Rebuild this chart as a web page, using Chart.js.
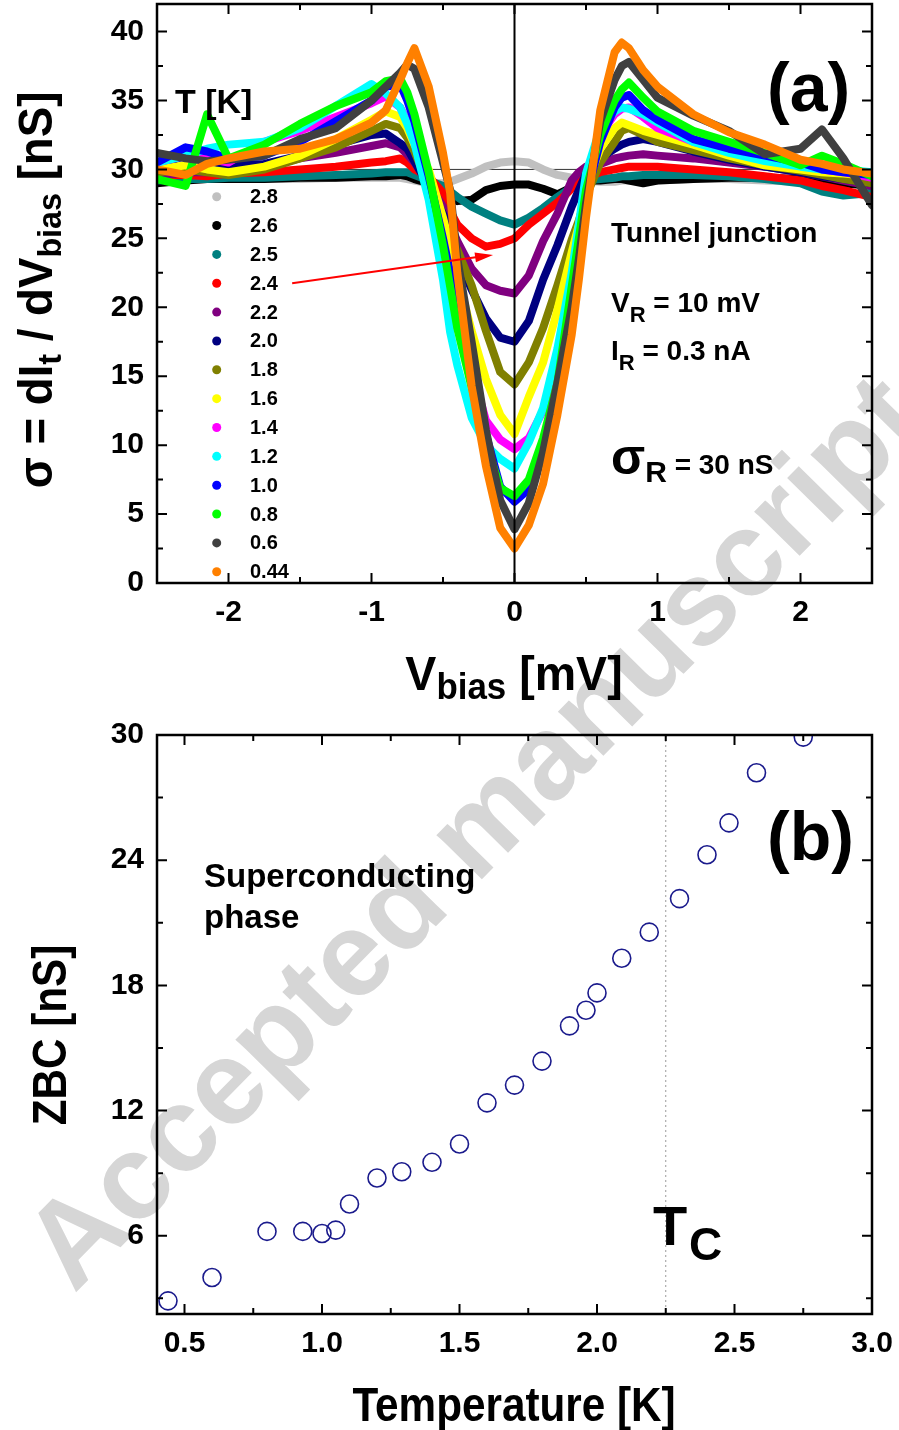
<!DOCTYPE html>
<html>
<head>
<meta charset="utf-8">
<script src="https://cdn.jsdelivr.net/npm/chart.js@4.4.1/dist/chart.umd.min.js"></script>
<style>
  html, body { margin: 0; padding: 0; background: #fff; overflow: hidden; }
  #page { position: relative; width: 899px; height: 1430px; }
  #page canvas { position: absolute; left: 0; }
  #wm { top: 0; }
  #chartA { top: 0; }
  #chartB { top: 715px; }
</style>
</head>
<body>
<div id="page">
  <canvas id="wm" width="899" height="1430"></canvas>
  <canvas id="chartA" width="899" height="715"></canvas>
  <canvas id="chartB" width="899" height="715"></canvas>
</div>
<script>
const FONT = '"Liberation Sans", Arial, Helvetica, sans-serif'

// ---- panel (a): conductance vs bias, one curve per temperature ----
const vbias = [-2.5,-2.3,-2.15,-2.0,-1.75,-1.5,-1.25,-1.0,-0.9,-0.8,-0.75,-0.7,-0.6,-0.5,-0.45,-0.4,-0.3,-0.2,-0.1,
  0,
  0.1,0.2,0.3,0.4,0.45,0.5,0.6,0.7,0.75,0.8,0.9,1.0,1.25,1.5,1.75,2.0,2.15,2.3,2.5]

const sigma28 = [29.2,29.2,29.3,29.3,29.3,29.3,29.4,29.4,29.4,29.4,29.3,29.2,29.0,29.0,29.1,29.3,29.7,30.2,30.5, 30.6,
  30.5,30.0,29.6,29.4,29.3,29.2,29.1,29.1,29.2,29.2,29.2,29.2,29.3,29.3,29.2,29.1,29.0,29.0,29.0]
const sigma26 = [29.0,29.2,29.3,29.3,29.3,29.4,29.4,29.5,29.5,29.6,29.5,29.3,29.0,28.5,28.0,27.7,27.8,28.5,28.8, 28.9,
  28.9,28.6,28.2,28.7,29.0,29.2,29.2,29.3,29.3,29.2,29.0,29.2,29.3,29.4,29.4,29.3,29.2,29.0,28.8]
const sigma25 = [29.2,29.3,29.3,29.4,29.4,29.5,29.6,29.7,29.8,29.8,29.8,29.6,29.2,28.8,28.4,28.0,27.3,26.8,26.3, 26.0,
  26.5,27.2,28.0,28.7,29.0,29.2,29.3,29.4,29.5,29.5,29.6,29.6,29.6,29.5,29.3,29.0,28.4,28.1,28.3]
const sigma24 = [29.6,29.6,29.5,29.7,29.8,30.0,30.2,30.5,30.6,30.8,30.5,30.0,29.5,28.3,27.0,26.0,25.0,24.4,24.6, 25.0,
  26.0,26.8,27.6,28.6,29.1,29.4,29.8,30.0,30.1,30.2,30.2,30.2,30.0,29.8,29.5,29.2,28.8,28.5,28.0]
const sigma22 = [29.5,29.8,29.8,29.9,30.2,30.8,31.2,31.7,31.9,31.6,31.1,30.5,29.0,27.3,26.0,24.8,22.8,21.6,21.2, 21.0,
  22.3,24.8,26.8,29.2,29.8,30.2,30.4,30.8,30.9,31.0,31.1,31.0,30.8,30.5,30.2,29.8,29.5,29.2,28.8]
const sigma20 = [30.3,31.0,30.6,30.3,30.4,31.0,31.8,32.5,32.6,31.9,31.5,30.6,28.8,26.8,25.3,23.7,21.3,19.2,17.8, 17.5,
  19.0,22.0,24.5,27.3,28.5,29.7,30.8,31.5,31.8,32.0,32.2,32.0,31.3,30.7,30.2,29.8,29.5,29.3,29.0]
const sigma18 = [29.8,30.0,29.8,29.6,30.0,30.8,31.6,32.8,33.3,33.0,32.3,31.3,28.8,26.0,25.0,24.2,21.6,18.3,15.3, 14.4,
  16.0,18.5,21.6,24.9,26.3,28.0,30.5,32.0,32.8,33.0,32.5,32.0,31.4,30.8,30.3,29.9,29.6,29.3,29.0]
const sigma16 = [30.0,30.3,30.0,29.8,30.2,31.0,32.2,33.6,34.2,33.8,33.0,31.8,30.0,26.5,24.5,22.3,18.3,14.8,12.2, 10.8,
  13.5,16.0,19.8,24.0,26.0,28.8,31.5,33.0,33.4,33.2,32.8,32.5,31.8,31.0,30.3,30.0,29.8,29.7,29.5]
const sigma14 = [30.5,31.0,30.8,30.5,32.0,32.8,33.8,34.8,35.3,34.5,33.5,32.2,28.8,24.5,21.5,18.5,15.5,11.8,10.4, 9.7,
  10.5,12.5,16.5,22.0,25.5,29.0,32.5,34.0,34.4,34.5,33.8,33.0,32.0,31.4,30.7,30.3,30.0,29.8,29.4]
const sigma12 = [30.5,31.0,31.5,31.8,32.0,33.0,34.6,36.2,35.5,34.5,33.3,31.9,27.8,22.0,18.2,15.8,12.0,10.0,9.0, 8.3,
  10.2,12.7,17.0,22.5,26.0,29.7,33.0,34.2,34.5,34.4,34.0,33.4,32.0,31.2,30.6,30.2,30.0,30.0,29.8]
const sigma10 = [30.5,31.6,31.3,30.8,31.0,32.0,33.5,35.0,36.0,36.2,35.0,33.5,29.5,25.0,22.5,19.5,15.0,10.8,7.0, 5.9,
  6.8,9.8,14.0,21.0,24.5,28.0,32.0,34.5,35.2,35.4,34.3,33.6,32.2,31.5,31.0,30.5,30.0,29.8,29.6]
const sigma08 = [29.3,28.8,34.0,30.8,31.8,33.3,34.6,35.6,36.4,36.6,35.6,34.0,29.8,24.5,21.5,18.5,14.2,10.2,6.9, 6.3,
  7.5,10.5,14.5,21.5,25.0,28.5,32.5,35.0,35.8,36.3,35.2,34.2,32.8,32.0,31.2,30.3,31.0,30.4,29.5]
const sigma06 = [31.2,30.8,30.6,30.7,31.0,32.2,33.0,35.0,36.0,37.0,37.6,37.3,34.5,30.5,28.5,23.5,17.5,11.1,6.0, 3.9,
  5.8,9.5,14.5,20.0,23.5,27.5,33.5,36.5,37.5,37.8,36.5,35.2,33.9,32.8,31.1,31.5,32.9,30.8,27.4]
const sigma044 = [30.0,29.6,30.4,30.8,31.3,31.5,32.2,33.4,34.3,36.5,37.7,38.8,36.0,31.2,28.3,22.5,14.3,8.5,4.0, 2.5,
  4.2,7.2,12.2,18.0,22.0,26.5,34.3,38.5,39.2,38.8,37.2,36.0,34.0,32.7,31.8,30.7,30.4,30.0,29.7]

const tempLabels = ['2.8','2.6','2.5','2.4','2.2','2.0','1.8','1.6','1.4','1.2','1.0','0.8','0.6','0.44']
const curveColors = ['#c0c0c0','#000000','#008080','#ff0000','#800080','#000080','#808000',
  '#ffff00','#ff00ff','#00ffff','#0000ff','#00ff00','#404040','#ff8000']
const curves = [sigma28, sigma26, sigma25, sigma24, sigma22, sigma20, sigma18,
  sigma16, sigma14, sigma12, sigma10, sigma08, sigma06, sigma044]

const xTicksA = [-2, -1, 0, 1, 2]
const xMinorA = [-1.5, -0.5, 0.5, 1.5]
const yTicksA = [0, 5, 10, 15, 20, 25, 30, 35, 40]
const yMinorA = [2.5, 7.5, 12.5, 17.5, 22.5, 27.5, 32.5, 37.5]

// ---- panel (b): zero bias conductance vs temperature ----
const temperatureK = [0.44,0.60,0.80,0.93,1.00,1.05,1.10,1.20,1.29,1.40,1.50,1.60,
  1.70,1.80,1.90,1.96,2.00,2.09,2.19,2.30,2.40,2.48,2.58,2.75]
const zbc = [2.88,4.0,6.21,6.21,6.11,6.27,7.52,8.77,9.07,9.52,10.4,12.37,
  13.22,14.37,16.06,16.81,17.64,19.3,20.55,22.16,24.26,25.79,28.19,29.9]

const xTicksB = [0.5, 1.0, 1.5, 2.0, 2.5, 3.0]
const xMinorB = [0.75, 1.25, 1.75, 2.25, 2.75]
const yTicksB = [6, 12, 18, 24, 30]
const yMinorB = [3, 9, 15, 21, 27]
const tcValue = 2.25

// watermark behind both panels
const wm = document.getElementById('wm').getContext('2d')
wm.save()
wm.translate(478, 836)
wm.rotate(-45.5 * Math.PI / 180)
wm.font = 'bold 120px ' + FONT
wm.fillStyle = '#d6d6d6'
wm.textAlign = 'center'
wm.textBaseline = 'middle'
wm.fillText('Accepted manuscript', 0, 0)
wm.restore()

// text made of pieces, some of them lowered (subscripts)
function drawRich(ctx, parts, x, y, align, sx, rot) {
  ctx.save()
  ctx.translate(x, y)
  if (rot) ctx.rotate(rot)
  ctx.scale(sx || 1, 1)
  let w = 0
  parts.forEach(p => {
    ctx.font = 'bold ' + p.s + 'px ' + FONT
    p.w = ctx.measureText(p.t).width
    w += p.w
  })
  let cx = align === 'center' ? -w / 2 : 0
  ctx.fillStyle = '#000'
  ctx.textAlign = 'left'
  ctx.textBaseline = 'alphabetic'
  parts.forEach(p => {
    ctx.font = 'bold ' + p.s + 'px ' + FONT
    ctx.fillText(p.t, cx, p.dy || 0)
    cx += p.w
  })
  ctx.restore()
}

function drawFrame(chart, xMajor, xMinor, yMajor, yMinor) {
  const { ctx, chartArea: a } = chart
  const sx = chart.scales.x, sy = chart.scales.y
  ctx.save()
  ctx.strokeStyle = '#000'
  ctx.lineWidth = 2
  ctx.beginPath()
  ;[[xMajor, 10], [xMinor, 6]].forEach(([vals, len]) => vals.forEach(v => {
    const px = sx.getPixelForValue(v)
    ctx.moveTo(px, a.bottom); ctx.lineTo(px, a.bottom - len)
    ctx.moveTo(px, a.top); ctx.lineTo(px, a.top + len)
  }))
  ;[[yMajor, 10], [yMinor, 6]].forEach(([vals, len]) => vals.forEach(v => {
    const py = sy.getPixelForValue(v)
    ctx.moveTo(a.left, py); ctx.lineTo(a.left + len, py)
    ctx.moveTo(a.right, py); ctx.lineTo(a.right - len, py)
  }))
  ctx.stroke()
  ctx.lineWidth = 2.5
  ctx.strokeRect(a.left, a.top, a.right - a.left, a.bottom - a.top)
  ctx.restore()
}

const tickFont = { family: FONT, size: 30, weight: 'bold' }
const noPad = s => { s.paddingTop = 0; s.paddingBottom = 0; s.paddingLeft = 0; s.paddingRight = 0 }

// ---------- chart (a) ----------
const arrowFrom = { x: -1.555, y: 21.75 }
const arrowTo = { x: -0.15, y: 23.8 }

const panelA = {
  id: 'panelA',
  beforeDatasetsDraw(chart) {
    const { ctx, chartArea: a, scales: { y } } = chart
    const py = y.getPixelForValue(30)
    ctx.save()
    ctx.strokeStyle = '#333'
    ctx.lineWidth = 1
    ctx.beginPath(); ctx.moveTo(a.left, py); ctx.lineTo(a.right, py); ctx.stroke()
    ctx.restore()
  },
  afterDatasetsDraw(chart) {
    const { ctx, chartArea: a, scales: { x, y } } = chart
    ctx.save()
    // vertical line at zero bias
    const px0 = x.getPixelForValue(0)
    ctx.strokeStyle = '#000'
    ctx.lineWidth = 2
    ctx.beginPath(); ctx.moveTo(px0, a.top); ctx.lineTo(px0, a.bottom); ctx.stroke()

    // red arrow pointing at the 2.4 K curve
    const x1 = x.getPixelForValue(arrowFrom.x), y1 = y.getPixelForValue(arrowFrom.y)
    const x2 = x.getPixelForValue(arrowTo.x), y2 = y.getPixelForValue(arrowTo.y)
    const ang = Math.atan2(y2 - y1, x2 - x1)
    ctx.strokeStyle = '#ff0000'
    ctx.fillStyle = '#ff0000'
    ctx.lineWidth = 2
    ctx.beginPath(); ctx.moveTo(x1, y1); ctx.lineTo(x2 - 14 * Math.cos(ang), y2 - 14 * Math.sin(ang)); ctx.stroke()
    ctx.beginPath()
    ctx.moveTo(x2, y2)
    ctx.lineTo(x2 - 18 * Math.cos(ang) + 5 * Math.sin(ang), y2 - 18 * Math.sin(ang) - 5 * Math.cos(ang))
    ctx.lineTo(x2 - 18 * Math.cos(ang) - 5 * Math.sin(ang), y2 - 18 * Math.sin(ang) + 5 * Math.cos(ang))
    ctx.closePath(); ctx.fill()

    // legend
    tempLabels.forEach((t, i) => {
      const ly = 196.7 + 28.85 * i
      ctx.fillStyle = curveColors[i]
      ctx.beginPath(); ctx.arc(216.7, ly, 4.5, 0, Math.PI * 2); ctx.fill()
      ctx.fillStyle = '#000'
      ctx.font = 'bold 20px ' + FONT
      ctx.textAlign = 'left'
      ctx.textBaseline = 'middle'
      ctx.fillText(t, 250, ly + 1)
    })
    ctx.restore()

    drawFrame(chart, xTicksA, xMinorA, yTicksA, yMinorA)

    drawRich(ctx, [{ t: 'T [K]', s: 34 }], 175, 113, 'left')
    drawRich(ctx, [{ t: '(a)', s: 68 }], 767, 111, 'left')
    drawRich(ctx, [{ t: 'Tunnel junction', s: 28 }], 611, 242, 'left')
    drawRich(ctx, [{ t: 'V', s: 28 }, { t: 'R', s: 22, dy: 10 }, { t: ' = 10 mV', s: 28 }], 611, 312, 'left')
    drawRich(ctx, [{ t: 'I', s: 28 }, { t: 'R', s: 22, dy: 10 }, { t: ' = 0.3 nA', s: 28 }], 611, 360, 'left')
    drawRich(ctx, [{ t: 'σ', s: 50 }, { t: 'R', s: 30, dy: 8 }, { t: ' = 30 nS', s: 28 }], 611, 474, 'left')

    // axis titles
    drawRich(ctx, [{ t: 'V', s: 48 }, { t: 'bias', s: 36, dy: 9 }, { t: ' [mV]', s: 48 }], 514, 690, 'center', 0.97)
    drawRich(ctx, [{ t: 'σ = dI', s: 48 }, { t: 't', s: 34, dy: 9 }, { t: ' / dV', s: 48 },
      { t: 'bias', s: 34, dy: 9 }, { t: ' [nS]', s: 48 }], 52, 290, 'center', 0.95, -Math.PI / 2)
  }
}

new Chart(document.getElementById('chartA'), {
  type: 'line',
  data: {
    datasets: curves.map((vals, i) => ({
      label: tempLabels[i],
      data: vbias.map((v, k) => ({ x: v, y: vals[k] })),
      borderColor: curveColors[i],
      backgroundColor: curveColors[i],
      borderWidth: 8,
      borderJoinStyle: 'round',
      borderCapStyle: 'round',
      pointRadius: 0,
      tension: 0,
      fill: false,
      clip: 0,
      order: curves.length - 1 - i
    }))
  },
  options: {
    responsive: false,
    animation: false,
    layout: { padding: { top: 4, right: 27, left: 0, bottom: 0 } },
    plugins: { legend: { display: false }, tooltip: { enabled: false } },
    scales: {
      x: {
        type: 'linear', min: -2.5, max: 2.5,
        grid: { display: false, drawTicks: false },
        border: { display: false },
        ticks: { font: tickFont, color: '#000', padding: 12, maxRotation: 0, callback: v => String(v) },
        afterBuildTicks: s => { s.ticks = xTicksA.map(v => ({ value: v })) },
        afterFit: s => { s.height = 132; noPad(s) }
      },
      y: {
        type: 'linear', min: 0, max: 42,
        grid: { display: false, drawTicks: false },
        border: { display: false },
        ticks: { font: tickFont, color: '#000', padding: 13, callback: v => String(v) },
        afterBuildTicks: s => { s.ticks = yTicksA.map(v => ({ value: v })) },
        afterFit: s => { s.width = 157; noPad(s) }
      }
    }
  },
  plugins: [panelA]
})

// ---------- chart (b) ----------
const panelB = {
  id: 'panelB',
  beforeDatasetsDraw(chart) {
    const { ctx, chartArea: a, scales: { x } } = chart
    const px = x.getPixelForValue(tcValue)
    ctx.save()
    ctx.strokeStyle = '#9a9a9a'
    ctx.lineWidth = 1
    ctx.setLineDash([2, 3])
    ctx.beginPath(); ctx.moveTo(px, a.top); ctx.lineTo(px, a.bottom); ctx.stroke()
    ctx.restore()
  },
  afterDatasetsDraw(chart) {
    const { ctx } = chart
    drawFrame(chart, xTicksB, xMinorB, yTicksB, yMinorB)
    drawRich(ctx, [{ t: '(b)', s: 68 }], 767, 145, 'left')
    drawRich(ctx, [{ t: 'Superconducting', s: 33 }], 204, 172, 'left')
    drawRich(ctx, [{ t: 'phase', s: 33 }], 204, 213, 'left')
    drawRich(ctx, [{ t: 'T', s: 56 }], 653, 530, 'left')
    drawRich(ctx, [{ t: 'C', s: 46 }], 689, 545, 'left')
    drawRich(ctx, [{ t: 'Temperature [K]', s: 48 }], 514, 706, 'center', 0.88)
    drawRich(ctx, [{ t: 'ZBC [nS]', s: 48 }], 66, 320, 'center', 0.88, -Math.PI / 2)
  }
}

new Chart(document.getElementById('chartB'), {
  type: 'scatter',
  data: {
    datasets: [{
      label: 'ZBC',
      data: temperatureK.map((t, i) => ({ x: t, y: zbc[i] })),
      pointStyle: 'circle',
      pointRadius: 9,
      pointBorderWidth: 1.6,
      borderColor: '#1a1a8c',
      backgroundColor: 'rgba(0,0,0,0)',
      clip: 0
    }]
  },
  options: {
    responsive: false,
    animation: false,
    layout: { padding: { top: 20, right: 27, left: 0, bottom: 0 } },
    plugins: { legend: { display: false }, tooltip: { enabled: false } },
    scales: {
      x: {
        type: 'linear', min: 0.4, max: 3.0,
        grid: { display: false, drawTicks: false },
        border: { display: false },
        ticks: { font: tickFont, color: '#000', padding: 12, maxRotation: 0, callback: v => v.toFixed(1) },
        afterBuildTicks: s => { s.ticks = xTicksB.map(v => ({ value: v })) },
        afterFit: s => { s.height = 116; noPad(s) }
      },
      y: {
        type: 'linear', min: 2.25, max: 30,
        grid: { display: false, drawTicks: false },
        border: { display: false },
        ticks: { font: tickFont, color: '#000', padding: 13, callback: v => String(v) },
        afterBuildTicks: s => { s.ticks = yTicksB.map(v => ({ value: v })) },
        afterFit: s => { s.width = 157; noPad(s) }
      }
    }
  },
  plugins: [panelB]
})
</script>
</body>
</html>
